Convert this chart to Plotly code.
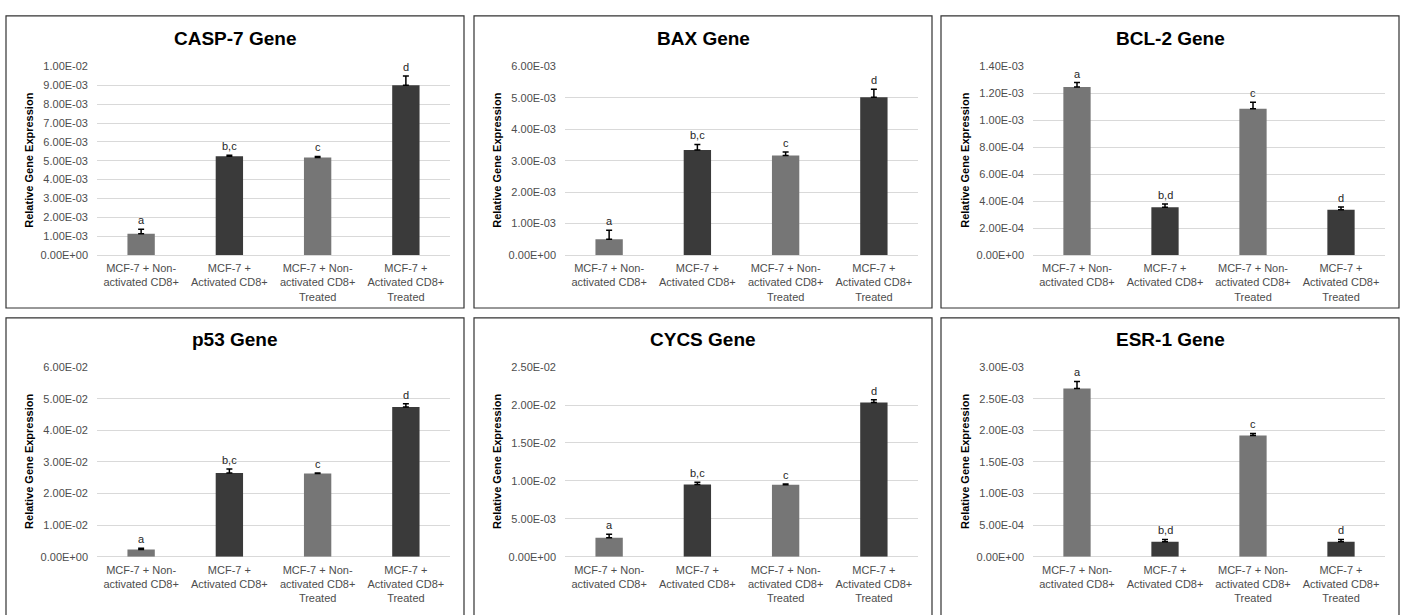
import plotly.graph_objects as go

# ---------------- data ----------------
categories = [
    "MCF-7 + Non-<br>activated CD8+",
    "MCF-7 +<br>Activated CD8+",
    "MCF-7 + Non-<br>activated CD8+<br>Treated",
    "MCF-7 +<br>Activated CD8+<br>Treated",
]
genes = ["CASP-7 Gene", "BAX Gene", "BCL-2 Gene", "p53 Gene", "CYCS Gene", "ESR-1 Gene"]

casp7_values = [1.13e-3, 5.24e-3, 5.18e-3, 9.00e-3]
casp7_errors = [0.24e-3, 0.05e-3, 0.05e-3, 0.50e-3]
casp7_letters = ["a", "b,c", "c", "d"]
casp7_ticks = ["0.00E+00", "1.00E-03", "2.00E-03", "3.00E-03", "4.00E-03", "5.00E-03",
               "6.00E-03", "7.00E-03", "8.00E-03", "9.00E-03", "1.00E-02"]

bax_values = [0.50e-3, 3.34e-3, 3.17e-3, 5.02e-3]
bax_errors = [0.29e-3, 0.18e-3, 0.11e-3, 0.26e-3]
bax_letters = ["a", "b,c", "c", "d"]
bax_ticks = ["0.00E+00", "1.00E-03", "2.00E-03", "3.00E-03", "4.00E-03", "5.00E-03", "6.00E-03"]

bcl2_values = [1.247e-3, 3.55e-4, 1.087e-3, 3.37e-4]
bcl2_errors = [0.034e-3, 0.24e-4, 0.047e-3, 0.20e-4]
bcl2_letters = ["a", "b,d", "c", "d"]
bcl2_ticks = ["0.00E+00", "2.00E-04", "4.00E-04", "6.00E-04", "8.00E-04",
              "1.00E-03", "1.20E-03", "1.40E-03"]

p53_values = [0.23e-2, 2.65e-2, 2.63e-2, 4.74e-2]
p53_errors = [0.04e-2, 0.13e-2, 0.02e-2, 0.10e-2]
p53_letters = ["a", "b,c", "c", "d"]
p53_ticks = ["0.00E+00", "1.00E-02", "2.00E-02", "3.00E-02", "4.00E-02", "5.00E-02", "6.00E-02"]

cycs_values = [0.251e-2, 0.953e-2, 0.950e-2, 2.035e-2]
cycs_errors = [0.046e-2, 0.030e-2, 0.010e-2, 0.035e-2]
cycs_letters = ["a", "b,c", "c", "d"]
cycs_ticks = ["0.00E+00", "5.00E-03", "1.00E-02", "1.50E-02", "2.00E-02", "2.50E-02"]

esr1_values = [2.663e-3, 0.238e-3, 1.920e-3, 0.238e-3]
esr1_errors = [0.110e-3, 0.035e-3, 0.030e-3, 0.035e-3]
esr1_letters = ["a", "b,d", "c", "d"]
esr1_ticks = ["0.00E+00", "5.00E-04", "1.00E-03", "1.50E-03", "2.00E-03", "2.50E-03", "3.00E-03"]

all_values = [casp7_values, bax_values, bcl2_values, p53_values, cycs_values, esr1_values]
all_errors = [casp7_errors, bax_errors, bcl2_errors, p53_errors, cycs_errors, esr1_errors]
all_letters = [casp7_letters, bax_letters, bcl2_letters, p53_letters, cycs_letters, esr1_letters]
all_ticks = [casp7_ticks, bax_ticks, bcl2_ticks, p53_ticks, cycs_ticks, esr1_ticks]

# ---------------- style ----------------
W, H = 1406, 615
LIGHT = "#767676"
DARK = "#3a3a3a"
bar_colors = [LIGHT, DARK, LIGHT, DARK]
FONT = "Arial, Liberation Sans, sans-serif"
TICK_COLOR = "#4d4d4d"
GRID = "#d9d9d9"

# pixel geometry of panels
box_x = [(6, 464), (474, 932), (941, 1399)]
box_y = [(10, 308), (318, 640)]
plot_x = [(97, 450), (565, 918), (1033, 1385)]
plot_y = [(61.7, 254), (368.3, 561.7)]
title_y = [33, 340]
ytitle_x = [29, 497, 965]


def px(x):
    return x / W


def py(y):
    return 1 - y / H


fig = go.Figure()
layout = dict(
    width=W, height=H,
    margin=dict(l=0, r=0, t=0, b=0),
    paper_bgcolor="white", plot_bgcolor="white",
    showlegend=False,
    bargap=0.69,
    font=dict(family=FONT),
)
shapes = []
annotations = []

for i in range(6):
    r, c = divmod(i, 3)
    n = i + 1
    xa = "x" if n == 1 else f"x{n}"
    ya = "y" if n == 1 else f"y{n}"
    vals = all_values[i]
    errs = all_errors[i]
    fig.add_trace(go.Bar(
        x=categories, y=vals, xaxis=xa, yaxis=ya,
        marker=dict(color=bar_colors, line=dict(width=0)),
        error_y=dict(type="data", array=errs, arrayminus=[0] * 4, symmetric=False,
                     color="black", thickness=1.5, width=3),
        hoverinfo="skip",
    ))
    tickvals = [float(t) for t in all_ticks[i]]
    layout["xaxis" if n == 1 else f"xaxis{n}"] = dict(
        domain=[px(plot_x[c][0]), px(plot_x[c][1])],
        anchor=ya, showgrid=False, showline=False, ticks="",
        ticklabelstandoff=5,
        tickfont=dict(size=11, color=TICK_COLOR, family=FONT),
        tickangle=0, fixedrange=True,
    )
    layout["yaxis" if n == 1 else f"yaxis{n}"] = dict(
        domain=[py(plot_y[r][1]), py(plot_y[r][0])],
        anchor=xa, range=[0, tickvals[-1]],
        tickvals=tickvals, ticktext=all_ticks[i],
        showgrid=True, gridcolor=GRID, gridwidth=1,
        zeroline=True, zerolinecolor=GRID, zerolinewidth=1,
        showline=False, ticks="", ticklabelstandoff=8,
        tickfont=dict(size=11, color=TICK_COLOR, family=FONT),
        fixedrange=True,
    )
    # panel border
    shapes.append(dict(type="rect", xref="paper", yref="paper",
                       x0=px(box_x[c][0]), x1=px(box_x[c][1]),
                       y0=py(box_y[r][1]), y1=py(box_y[r][0]),
                       line=dict(color="#333333", width=1.2), layer="below"))
    # title
    annotations.append(dict(text=f"<b>{genes[i]}</b>", xref="paper", yref="paper",
                            x=px((box_x[c][0] + box_x[c][1]) / 2), y=py(title_y[r]),
                            xanchor="center", yanchor="middle", showarrow=False,
                            font=dict(size=19, color="black", family=FONT)))
    # y axis title
    annotations.append(dict(text="<b>Relative Gene Expression</b>", xref="paper", yref="paper",
                            x=px(ytitle_x[c]), y=py((plot_y[r][0] + plot_y[r][1]) / 2),
                            xanchor="center", yanchor="middle", showarrow=False, textangle=-90,
                            font=dict(size=11, color="black", family=FONT)))
    # significance letters
    for j in range(4):
        annotations.append(dict(text=all_letters[i][j], xref=xa, yref=ya,
                                x=categories[j], y=vals[j] + errs[j],
                                xanchor="center", yanchor="bottom", yshift=1,
                                showarrow=False,
                                font=dict(size=11, color="#262626", family=FONT)))

layout["shapes"] = shapes
layout["annotations"] = annotations
fig.update_layout(**layout)
fig.write_html("out.html",
               config={"displayModeBar": False, "staticPlot": True},
               post_script="document.body.style.margin='0';document.body.style.overflow='hidden';")
